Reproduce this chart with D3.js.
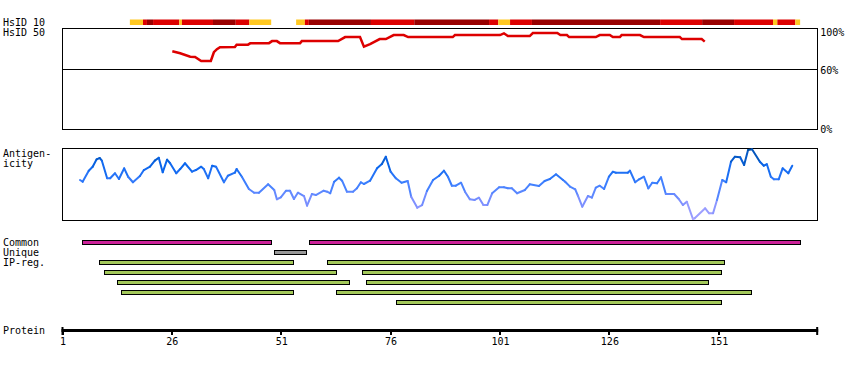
<!DOCTYPE html>
<meta charset="utf-8">
<style>
body { margin:0; background:#fff; }
svg text { font-family: "DejaVu Sans Mono", monospace; font-size:10px; fill:#000; }
.box { fill:none; stroke:#000; stroke-width:1; shape-rendering:crispEdges; }
.bar { stroke:#000; stroke-width:1; shape-rendering:crispEdges; }
</style>
<body>
<svg width="850" height="370" id="vis"></svg>
<script src="https://d3js.org/d3.v7.min.js"></script>
<script>
// residue ticks on the protein axis
var tickVals = [1, 26, 51, 76, 101, 126, 151];
var protLen = 173.5;

// HsID 10 identity track: start, end residue and level (0 = low, 1 = mid, 2 = high)
var hs10Start = [16.4, 19.4, 20.3, 21.7, 27.7, 28.3, 35.4, 40.6, 43.7, 54.4, 56.4, 57.3, 71.5, 81.4, 98.5, 100.6, 103.3, 108.3, 137.6, 147.2, 154.5, 163.4, 164.4, 168.5];
var hs10End   = [19.4, 20.3, 21.7, 27.7, 28.3, 35.4, 40.6, 43.7, 48.7, 56.4, 57.3, 71.5, 81.4, 98.5, 100.6, 103.3, 108.3, 137.6, 147.2, 154.5, 163.4, 164.4, 168.5, 169.6];
var hs10Level = [0, 1, 2, 1, 0, 1, 2, 1, 0, 0, 1, 2, 1, 2, 1, 0, 1, 2, 1, 2, 1, 0, 1, 0];

// HsID 50 identity (%)
var hs50Pos = [26.1, 27.9, 30.2, 31.3, 32.7, 34.9, 35.6, 36.3, 37.0, 40.4, 40.8, 43.4, 43.9, 48.2, 48.9, 50.0, 50.7, 55.3, 55.7, 64.0, 65.6, 69.0, 69.9, 71.3, 73.5, 74.9, 76.7, 79.0, 80.0, 90.2, 90.7, 101.0, 101.9, 102.8, 107.8, 108.5, 114.1, 114.8, 116.3, 116.8, 122.9, 123.8, 126.1, 126.8, 128.4, 128.8, 133.0, 133.9, 142.1, 142.6, 147.1, 147.8];
var hs50Val = [78, 76, 72.5, 72.3, 68.3, 68.3, 77, 80, 82, 82.2, 84.5, 84.5, 85.8, 86, 88, 88, 86, 86, 88, 88, 92, 92, 82.5, 85, 90, 90, 94, 94, 92, 92, 94, 94, 95.7, 93, 93, 96, 96, 94, 94, 92, 92, 94, 94, 92, 92, 94, 94, 92, 92, 90, 90, 87.5];

// antigenicity profile (relative score 0-100)
var antPos = [5.0, 5.6, 7.0, 7.9, 8.8, 9.5, 10.0, 11.2, 11.9, 13.0, 13.9, 15.1, 16.0, 17.1, 18.7, 19.6, 21.0, 22.1, 23.0, 23.9, 24.9, 25.6, 27.0, 27.9, 29.0, 30.6, 31.5, 32.7, 33.3, 34.3, 35.2, 36.1, 37.9, 38.8, 40.4, 40.8, 42.0, 43.6, 44.8, 45.9, 48.0, 49.4, 50.0, 50.9, 52.1, 53.0, 53.9, 54.8, 56.2, 56.9, 58.0, 58.9, 60.7, 61.5, 62.2, 63.1, 64.2, 64.9, 66.0, 67.4, 68.3, 69.2, 69.9, 71.3, 72.9, 74.0, 74.9, 76.0, 77.2, 78.5, 79.9, 80.7, 82.1, 83.2, 84.3, 85.7, 87.1, 88.2, 89.1, 90.0, 90.9, 92.1, 93.0, 94.1, 95.2, 96.2, 97.2, 98.1, 99.2, 100.8, 101.9, 102.8, 103.7, 104.9, 106.7, 107.8, 109.9, 111.2, 112.4, 113.8, 115.4, 115.9, 117.0, 118.2, 118.8, 119.8, 121.1, 122.0, 122.9, 123.8, 124.8, 125.9, 126.8, 127.5, 130.2, 130.7, 131.9, 132.8, 133.9, 134.9, 135.8, 136.9, 137.8, 138.9, 140.8, 141.9, 142.8, 143.7, 145.1, 145.5, 147.9, 148.8, 149.7, 150.6, 151.8, 152.7, 153.8, 154.7, 155.9, 156.8, 157.7, 158.6, 160.4, 161.3, 162.0, 162.9, 163.6, 164.7, 165.6, 166.9, 167.8];
var antVal = [55.6, 53.2, 68.5, 74.0, 84.3, 86.1, 82.4, 57.9, 57.9, 64.9, 56.9, 71.8, 60.1, 52.4, 61.1, 69.4, 74.0, 82.4, 86.5, 66.2, 83.8, 78.8, 64.9, 70.8, 78.8, 67.1, 69.4, 74.0, 70.8, 57.9, 75.4, 74.0, 52.4, 61.5, 65.7, 70.8, 60.1, 43.1, 37.9, 37.9, 49.6, 41.7, 28.8, 31.5, 40.7, 40.7, 29.2, 37.9, 33.3, 19.9, 36.1, 34.7, 40.7, 39.3, 37.1, 53.2, 58.8, 54.6, 39.3, 39.3, 44.0, 52.4, 50.0, 54.6, 71.8, 77.8, 87.9, 67.1, 57.9, 51.8, 54.2, 32.4, 17.1, 20.8, 40.3, 55.6, 61.5, 68.5, 60.1, 47.6, 47.6, 51.8, 39.3, 28.8, 27.8, 31.0, 20.8, 20.8, 37.1, 45.4, 45.4, 44.0, 44.0, 37.1, 41.7, 49.6, 47.2, 54.2, 56.9, 63.5, 55.6, 53.2, 46.3, 42.6, 34.0, 18.5, 33.3, 31.0, 44.9, 47.6, 43.1, 60.1, 67.1, 65.7, 65.7, 68.5, 52.4, 56.5, 60.1, 44.0, 51.8, 51.0, 59.3, 36.1, 36.1, 28.8, 20.8, 25.4, 1.4, 2.4, 16.2, 9.3, 9.3, 27.8, 55.6, 52.4, 81.0, 87.9, 87.1, 76.4, 97.2, 98.2, 81.0, 75.4, 77.4, 60.1, 56.5, 56.5, 71.8, 64.9, 75.4];

// peptide tracks: row index, start, end
var commonStart = [5.5, 57.4];
var commonEnd   = [48.6, 169.5];
var uniqueStart = [49.4];
var uniqueEnd   = [56.6];
var ipRow   = [0, 0, 1, 1, 2, 2, 3, 3, 4];
var ipStart = [9.4, 61.5, 10.5, 69.5, 13.5, 70.4, 14.4, 63.4, 77.3];
var ipEnd   = [53.6, 152.3, 63.5, 151.5, 66.4, 148.5, 53.6, 158.3, 151.5];

var svg = d3.select("#vis");

var x = d3.scaleLinear().domain([1, 101]).range([62.5, 500]);
var left = 62.5, right = x(protLen);

var levelColour = ["#ffc822", "#dd0000", "#990000"];

// ---- HsID 10 track
svg.selectAll("rect.hs10").data(hs10Start).enter().append("rect")
    .attr("class", "hs10")
    .attr("x", function(d) { return x(d); })
    .attr("y", 19.5)
    .attr("width", function(d, i) { return x(hs10End[i]) - x(d); })
    .attr("height", 5.5)
    .style("fill", function(d, i) { return levelColour[hs10Level[i]]; });

// ---- HsID 50 panel
var y50 = d3.scaleLinear().domain([0, 100]).range([130, 29]);
svg.append("rect").attr("class", "box")
    .attr("x", left).attr("y", y50(100) - 0.5)
    .attr("width", right - left).attr("height", y50(0) - y50(100));
svg.append("line").attr("class", "box")
    .attr("x1", left).attr("x2", right)
    .attr("y1", y50(60)).attr("y2", y50(60));

var hs50 = hs50Pos.map(function(p, i) { return [p, hs50Val[i]]; });
svg.append("path")
    .datum(hs50)
    .attr("fill", "none")
    .attr("stroke", "#dd0000")
    .attr("stroke-width", 2.5)
    .attr("d", d3.line().x(function(d) { return x(d[0]); }).y(function(d) { return y50(d[1]); }));

[[100, 36], [60, 74], [0, 133]].forEach(function(t) {
  svg.append("text").attr("x", right + 3).attr("y", t[1]).text(t[0] + "%");
});

// ---- antigenicity panel
var yA = d3.scaleLinear().domain([0, 100]).range([220, 148]);
svg.append("rect").attr("class", "box")
    .attr("x", left).attr("y", 148)
    .attr("width", right - left).attr("height", 72);

var antColour = d3.scaleLinear()
    .domain([0, 25, 50, 75, 100])
    .range(["#b0a8ff", "#7e90ff", "#3f80ff", "#0a66ee", "#004a9a"]);

var segs = [];
for (var i = 1; i < antPos.length; i++) {
  segs.push({x0: antPos[i-1], y0: antVal[i-1], x1: antPos[i], y1: antVal[i]});
}
svg.selectAll("line.ant").data(segs).enter().append("line")
    .attr("class", "ant")
    .attr("x1", function(d) { return x(d.x0); })
    .attr("y1", function(d) { return yA(d.y0); })
    .attr("x2", function(d) { return x(d.x1); })
    .attr("y2", function(d) { return yA(d.y1); })
    .attr("stroke", function(d) { return antColour((d.y0 + d.y1) / 2); })
    .attr("stroke-width", 2)
    .attr("stroke-linecap", "round");

// ---- peptide bars
function bars(cls, starts, ends, rows, top, colour) {
  svg.selectAll("rect." + cls).data(starts).enter().append("rect")
      .attr("class", "bar " + cls)
      .attr("x", function(d) { return x(d) + 0.5; })
      .attr("y", function(d, i) { return top + (rows ? rows[i] * 10 : 0) + 0.5; })
      .attr("width", function(d, i) { return x(ends[i]) - x(d); })
      .attr("height", 4)
      .style("fill", colour);
}
bars("common", commonStart, commonEnd, null, 240, "#cc2299");
bars("unique", uniqueStart, uniqueEnd, null, 250, "#999999");
bars("ip", ipStart, ipEnd, ipRow, 260, "#a3c85a");

// ---- protein axis
svg.append("rect").attr("x", left - 1).attr("y", 329).attr("width", right - left + 2).attr("height", 3).style("fill", "#000");
svg.append("rect").attr("x", left - 1).attr("y", 327).attr("width", 2).attr("height", 8).style("fill", "#000");
svg.append("rect").attr("x", right - 1).attr("y", 327).attr("width", 2).attr("height", 8).style("fill", "#000");
svg.selectAll("rect.tick").data(tickVals).enter().append("rect")
    .attr("class", "tick")
    .attr("x", function(d) { return Math.round(x(d)) - 1; })
    .attr("y", 331).attr("width", 2).attr("height", 4)
    .style("fill", "#000");
svg.selectAll("text.tick").data(tickVals).enter().append("text")
    .attr("class", "tick")
    .attr("x", function(d) { return x(d) + 0.5; })
    .attr("y", 345)
    .attr("text-anchor", "middle")
    .text(function(d) { return d; });

// ---- row labels
var labels = [["HsID 10", 26], ["HsID 50", 36], ["Antigen-", 157], ["icity", 167],
              ["Common", 246], ["Unique", 256], ["IP-reg.", 266], ["Protein", 334]];
labels.forEach(function(l) {
  svg.append("text").attr("x", 3).attr("y", l[1]).text(l[0]);
});
</script>
</body>
